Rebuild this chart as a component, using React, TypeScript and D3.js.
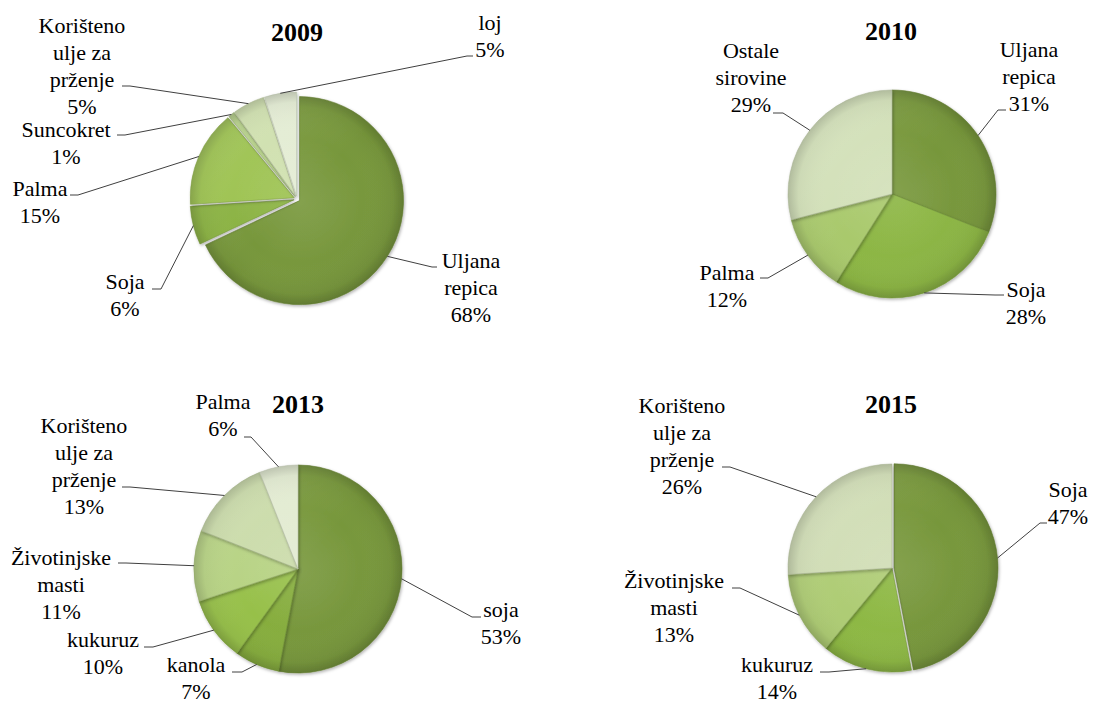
import React from "react";
import * as d3 from "d3";

// ---------------- DATA ----------------
const years = ["2009", "2010", "2013", "2015"];

const categories2009 = ["Uljana repica", "Soja", "Palma", "Suncokret", "Korišteno ulje za prženje", "loj"];
const values2009 = [68, 6, 15, 1, 5, 5];

const categories2010 = ["Uljana repica", "Soja", "Palma", "Ostale sirovine"];
const values2010 = [31, 28, 12, 29];

const categories2013 = ["soja", "kanola", "kukuruz", "Životinjske masti", "Korišteno ulje za prženje", "Palma"];
const values2013 = [53, 7, 10, 11, 13, 6];

const categories2015 = ["Soja", "kukuruz", "Životinjske masti", "Korišteno ulje za prženje"];
const values2015 = [47, 14, 13, 26];

// ---------------- STYLE / LAYOUT ----------------
const W = 1095;
const H = 704;
const R = 104;
const LINE_H = 27;
const FONT = "'Liberation Serif', 'Times New Roman', 'DejaVu Serif', serif";

const colors2009 = ["#77973b", "#8ab241", "#9cc24f", "#b5d088", "#cfe0ae", "#e3ecd3"];
const colors2010 = ["#77973b", "#8cb643", "#a9c96c", "#d2e0b8"];
const colors2013 = ["#77973b", "#86ad3d", "#97c04a", "#b6d282", "#cadba9", "#e2ebd1"];
const colors2015 = ["#77973b", "#8db843", "#aecc74", "#d0ddb5"];

type LabelPos = { tx: number; ty: number; kx: number; ky: number; sx: number };

const charts = [
  {
    year: years[0], cats: categories2009, vals: values2009, colors: colors2009,
    cx: 297, cy: 199, titleX: 297, titleY: 41, explode: [3, 3, 3, 3, 3, 3],
    labels: [
      { tx: 471, ty: 268, kx: 432, ky: 267, sx: 437 },
      { tx: 125, ty: 289, kx: 161, ky: 289, sx: 152 },
      { tx: 40, ty: 196, kx: 78, ky: 195, sx: 70 },
      { tx: 66, ty: 137, kx: 125, ky: 135, sx: 117 },
      { tx: 82, ty: 33, kx: 130, ky: 86, sx: 122 },
      { tx: 490, ty: 30, kx: 467, ky: 56, sx: 473 },
    ] as LabelPos[],
  },
  {
    year: years[1], cats: categories2010, vals: values2010, colors: colors2010,
    cx: 892, cy: 194, titleX: 891, titleY: 40, explode: [0, 0, 0, 0],
    labels: [
      { tx: 1029, ty: 57, kx: 998, ky: 110, sx: 1006 },
      { tx: 1026, ty: 297, kx: 995, ky: 295, sx: 1004 },
      { tx: 727, ty: 280, kx: 768, ky: 278, sx: 760 },
      { tx: 751, ty: 58, kx: 783, ky: 113, sx: 773 },
    ] as LabelPos[],
  },
  {
    year: years[2], cats: categories2013, vals: values2013, colors: colors2013,
    cx: 298, cy: 569, titleX: 298, titleY: 413, explode: [0, 0, 0, 0, 0, 0],
    labels: [
      { tx: 501, ty: 617, kx: 472, ky: 617, sx: 481 },
      { tx: 196, ty: 672, kx: 242, ky: 672, sx: 232 },
      { tx: 103, ty: 647, kx: 153, ky: 647, sx: 144 },
      { tx: 61, ty: 565, kx: 126, ky: 563, sx: 118 },
      { tx: 84, ty: 433, kx: 130, ky: 487, sx: 122 },
      { tx: 223, ty: 409, kx: 251, ky: 437, sx: 244 },
    ] as LabelPos[],
  },
  {
    year: years[3], cats: categories2015, vals: values2015, colors: colors2015,
    cx: 892, cy: 568, titleX: 891, titleY: 413, explode: [2, 0, 0, 0],
    labels: [
      { tx: 1068, ty: 497, kx: 1040, ky: 523, sx: 1047 },
      { tx: 777, ty: 672, kx: 829, ky: 672, sx: 820 },
      { tx: 674, ty: 588, kx: 740, ky: 588, sx: 732 },
      { tx: 682, ty: 413, kx: 730, ky: 467, sx: 722 },
    ] as LabelPos[],
  },
];

function wrapLabel(name: string, maxChars = 9): string[] {
  const words = name.split(" ");
  const lines: string[] = [];
  let cur = "";
  for (const w of words) {
    if (!cur) cur = w;
    else if ((cur + " " + w).length <= maxChars) cur += " " + w;
    else {
      lines.push(cur);
      cur = w;
    }
  }
  if (cur) lines.push(cur);
  return lines;
}

function PieChart({ chart }: { chart: (typeof charts)[number] }) {
  const pie = d3
    .pie<number>()
    .sort(null)
    .startAngle(0)
    .endAngle(2 * Math.PI)
    .value((d) => d);
  const arcs = pie(chart.vals);
  const arc = d3.arc<d3.PieArcDatum<number>>().innerRadius(0).outerRadius(R);
  const edge = d3.arc<d3.PieArcDatum<number>>().innerRadius(R).outerRadius(R);

  return (
    <g>
      <text
        x={chart.titleX}
        y={chart.titleY}
        textAnchor="middle"
        style={{ fontFamily: FONT, fontWeight: "bold", fontSize: "26px" }}
        fill="#000"
      >
        {chart.year}
      </text>
      <g transform={`translate(${chart.cx},${chart.cy})`}>
        {arcs.map((a, i) => {
          const mid = (a.startAngle + a.endAngle) / 2;
          const ex = chart.explode[i] * Math.sin(mid);
          const ey = -chart.explode[i] * Math.cos(mid);
          const c = d3.color(chart.colors[i])!;
          return (
            <g key={i} transform={`translate(${ex},${ey})`} filter="url(#shadow)">
              <path d={arc(a)!} fill={chart.colors[i]} />
              <path d={arc(a)!} fill="url(#shade)" />
              <path d={arc(a)!} fill="url(#gloss)" />
              <path
                d={arc(a)!}
                fill="none"
                stroke={c.darker(0.6).formatHex()}
                strokeOpacity={0.55}
                strokeWidth={1}
              />
            </g>
          );
        })}
      </g>
      {arcs.map((a, i) => {
        const mid = (a.startAngle + a.endAngle) / 2;
        const [px, py] = edge.centroid(a);
        const sx0 = chart.cx + px + chart.explode[i] * Math.sin(mid);
        const sy0 = chart.cy + py - chart.explode[i] * Math.cos(mid);
        const L = chart.labels[i];
        const lines = [...wrapLabel(chart.cats[i]), `${chart.vals[i]}%`];
        return (
          <g key={`l${i}`}>
            <polyline
              points={`${sx0},${sy0} ${L.kx},${L.ky} ${L.sx},${L.ky}`}
              fill="none"
              stroke="#404040"
              strokeWidth={1}
            />
            <text
              x={L.tx}
              y={L.ty}
              textAnchor="middle"
              style={{ fontFamily: FONT, fontSize: "22px" }}
              fill="#000"
            >
              {lines.map((ln, j) => (
                <tspan key={j} x={L.tx} y={L.ty + j * LINE_H}>
                  {ln}
                </tspan>
              ))}
            </text>
          </g>
        );
      })}
    </g>
  );
}

export default function App() {
  return (
    <svg
      width={W}
      height={H}
      viewBox={`0 0 ${W} ${H}`}
      style={{ position: "absolute", left: 0, top: 0, background: "#fff", fontFamily: FONT }}
    >
      <defs>
        <radialGradient id="shade" gradientUnits="userSpaceOnUse" cx={0} cy={0} r={R}>
          <stop offset="0" stopColor="#ffffff" stopOpacity={0.1} />
          <stop offset="0.6" stopColor="#ffffff" stopOpacity={0} />
          <stop offset="0.9" stopColor="#000000" stopOpacity={0.04} />
          <stop offset="1" stopColor="#000000" stopOpacity={0.18} />
        </radialGradient>
        <linearGradient id="gloss" gradientUnits="userSpaceOnUse" x1={-R} y1={-R} x2={R} y2={R}>
          <stop offset="0" stopColor="#ffffff" stopOpacity={0.12} />
          <stop offset="0.5" stopColor="#ffffff" stopOpacity={0} />
          <stop offset="1" stopColor="#000000" stopOpacity={0.06} />
        </linearGradient>
        <filter id="shadow" x="-20%" y="-20%" width="140%" height="140%">
          <feDropShadow dx={1} dy={1.5} stdDeviation={1.5} floodColor="#000" floodOpacity={0.3} />
        </filter>
      </defs>
      <rect x={0} y={0} width={W} height={H} fill="#fff" />
      {charts.map((c) => (
        <PieChart key={c.year} chart={c} />
      ))}
    </svg>
  );
}
